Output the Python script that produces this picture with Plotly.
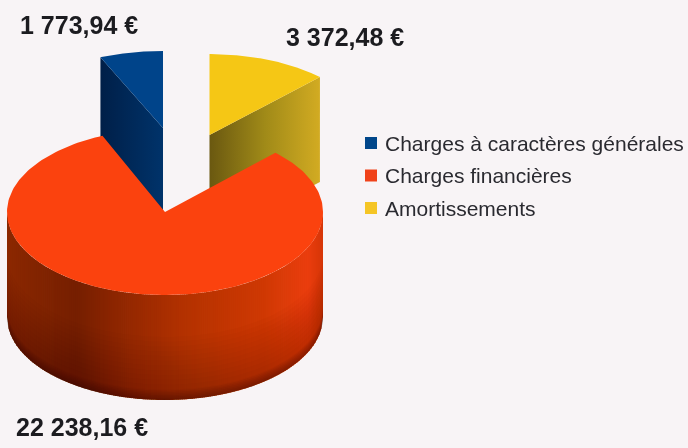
import numpy as np
import plotly.graph_objects as go

# ---- data
categories = ["Charges à caractères générales", "Charges financières", "Amortissements"]
values = [1773.94, 22238.16, 3372.48]
# ---- styles
top_colors = ["#00448a", "#fb420e", "#f5c715"]
legend_colors = ["#00468a", "#f0421a", "#f5c525"]
start_order = [2, 1, 0]           # clockwise from 12 o'clock: yellow, red, blue
apex = {0: (163, 128), 1: (165, 212), 2: (209.5, 135)}
radius_y = {0: 77, 1: 83, 2: 81}
rx, depth = 158, 105
label_pos = {0: (18, 25), 1: (14, 427), 2: (284, 37)}
legend_x, legend_text_x, legend_y = 371, 384, [143, 175.5, 208]
BG = "#f8f4f6"

total = sum(values)
ang = {}
a = 0.0
for i in start_order:
    ang[i] = (a, a + values[i] / total * 2 * np.pi)
    a = ang[i][1]


def rim(i, t):
    cx, cy = apex[i]
    return cx + rx * np.sin(t), cy - radius_y[i] * np.cos(t)


def top_face(i):
    t = np.linspace(*ang[i], 200)
    x, y = rim(i, t)
    cx, cy = apex[i]
    return np.r_[cx, x, cx], np.r_[cy, y, cy]


def fmt(v):
    return f"{v:,.2f}".replace(",", " ").replace(".", ",") + " €"


fig = go.Figure()


def cut_face(i, t, scale):
    cx, cy = apex[i]
    xr, yr = rim(i, t)
    fig.add_trace(go.Scatter(
        x=[cx, xr, xr, cx, cx], y=[cy, yr, yr + depth, cy + depth, cy],
        mode="lines", line=dict(width=0), fill="toself",
        fillgradient=dict(type="horizontal", colorscale=scale),
        hoverinfo="skip", showlegend=False))


def top(i):
    x, y = top_face(i)
    fig.add_trace(go.Scatter(x=x, y=y, mode="lines", line=dict(width=0), fill="toself",
                             fillcolor=top_colors[i], hoverinfo="skip", showlegend=False))


# back slices: cut faces, then top faces
cut_face(0, ang[0][0], [[0, "#001f48"], [1, "#00336a"]])
top(0)
cut_face(2, ang[2][1], [[0, "#6a5810"], [0.5, "#a08a18"], [1, "#d2ab22"]])
top(2)

# big slice: outer wall as vertical strips shaded across the width
cx, cy = apex[1]
ry = radius_y[1]
edges = np.linspace(cx - rx, cx + rx, 161)
xs = [cx - rx, cx - rx + 70, cx - 60, cx + 20, cx + 100, cx + rx - 15, cx + rx]
rs = [140, 118, 135, 180, 208, 235, 215]
gs = [40, 31, 36, 50, 57, 62, 54]
bs = [0, 0, 0, 0, 4, 14, 8]
for x0, x1 in zip(edges[:-1], edges[1:]):
    xa, xb = max(x0 - 0.4, cx - rx), min(x1 + 0.4, cx + rx)
    y0 = cy + ry * np.sqrt(max(0, 1 - ((xa - cx) / rx) ** 2))
    y1 = cy + ry * np.sqrt(max(0, 1 - ((xb - cx) / rx) ** 2))
    xm = (x0 + x1) / 2
    r, g, b = [float(np.interp(xm, xs, c)) for c in (rs, gs, bs)]
    fig.add_trace(go.Scatter(
        x=[xa, xb, xb, xa, xa], y=[y0, y1, y1 + depth, y0 + depth, y0],
        mode="lines", line=dict(width=0), fill="toself",
        fillcolor=f"rgb({int(r)},{int(g)},{int(b)})",
        hoverinfo="skip", showlegend=False))

# translucent bands following the ellipse: wall darkens towards its lower rim
arc_t = np.linspace(np.pi / 2, 3 * np.pi / 2, 240)
arc_x, arc_y = rim(1, arc_t)
bands = list(zip(np.linspace(0.4, 0.9, 12), [0.018] * 12)) + list(zip(np.linspace(0.91, 0.985, 6), [0.06] * 6))
for v, alpha in bands:
    fig.add_trace(go.Scatter(
        x=np.r_[arc_x, arc_x[::-1], arc_x[0]],
        y=np.r_[arc_y + depth * v, (arc_y + depth)[::-1], arc_y[0] + depth * v],
        mode="lines", line=dict(width=0), fill="toself", fillcolor=f"rgba(30,5,0,{alpha})",
        hoverinfo="skip", showlegend=False))
top(1)

# legend drawn as marked points with their category names
for i, name in enumerate(categories):
    fig.add_trace(go.Scatter(
        x=[legend_x], y=[legend_y[i]], mode="markers",
        marker=dict(symbol="square", size=12, color=legend_colors[i]),
        hoverinfo="skip", showlegend=False))
    fig.add_annotation(x=legend_text_x, y=legend_y[i], text=name, showarrow=False,
                       xanchor="left", yanchor="middle", xshift=-1,
                       font=dict(family="Liberation Sans", size=21, color="#2a2a30"))

for i, v in enumerate(values):
    lx, ly = label_pos[i]
    fig.add_annotation(x=lx, y=ly, text=fmt(v), showarrow=False, xanchor="left", yanchor="middle",
                       font=dict(family="Liberation Sans", size=25, color="#1c1c20", weight="bold"))

fig.update_layout(
    width=688, height=448, autosize=False, margin=dict(l=0, r=0, t=0, b=0),
    paper_bgcolor=BG, plot_bgcolor=BG, showlegend=False,
    xaxis=dict(visible=False, range=[0, 688], fixedrange=True),
    yaxis=dict(visible=False, range=[448, 0], fixedrange=True),
)
fig.write_html("out.html", config=dict(displayModeBar=False),
               post_script="document.body.style.margin='0';document.body.style.background='" + BG + "';document.body.style.overflow='hidden';document.body.style.filter='blur(0.6px)';")
